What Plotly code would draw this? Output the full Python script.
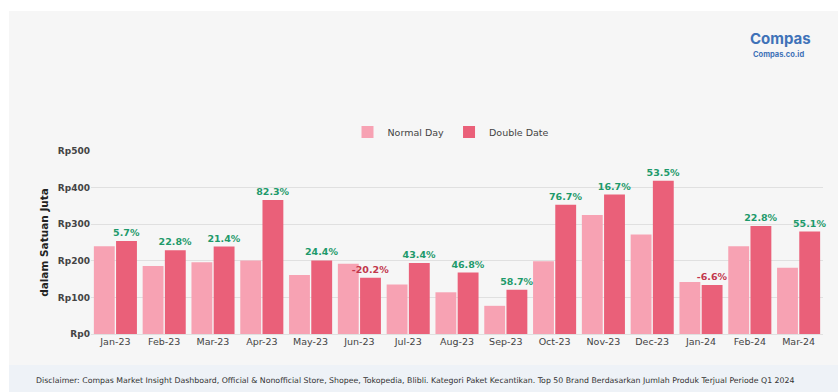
import plotly.graph_objects as go

months = ["Jan-23", "Feb-23", "Mar-23", "Apr-23", "May-23", "Jun-23", "Jul-23", "Aug-23",
          "Sep-23", "Oct-23", "Nov-23", "Dec-23", "Jan-24", "Feb-24", "Mar-24"]
normal_day = [240, 186, 196, 201, 161, 192, 135, 114, 77, 199, 325, 272, 142, 240, 181]
double_date = [254, 229, 239, 366, 201, 154, 194, 168, 121, 353, 381, 419, 134, 295, 280]
growth = ["5.7%", "22.8%", "21.4%", "82.3%", "24.4%", "-20.2%", "43.4%", "46.8%",
          "58.7%", "76.7%", "16.7%", "53.5%", "-6.6%", "22.8%", "55.1%"]
y_ticks = [0, 100, 200, 300, 400, 500]
y_tick_text = ["Rp0", "Rp100", "Rp200", "Rp300", "Rp400", "Rp500"]

growth_colors = ["#C2374C" if g.startswith("-") else "#1E9A6B" for g in growth]

W, H = 838, 392
L, R, T, B = 91, 15, 151, 58
pw, ph = W - L - R, H - T - B


def px(x):
    return (x - L) / pw


def py(y):
    return (H - B - y) / ph


FONT = "DejaVu Sans"

fig = go.Figure()
fig.add_trace(go.Bar(
    x=months, y=normal_day, name="Normal Day",
    marker=dict(color="#F7A2B3", line=dict(width=0)),
))
fig.add_trace(go.Bar(
    x=months, y=double_date, name="Double Date",
    marker=dict(color="#EA6079", line=dict(width=0)),
    text=growth, textposition="outside", constraintext="none", cliponaxis=False,
    textfont=dict(family=FONT, size=9.5, color=growth_colors, weight="bold"),
))

shapes = [
    dict(type="rect", xref="paper", yref="paper", x0=px(9), x1=px(W), y0=py(365), y1=py(11),
         fillcolor="#F6F6F6", line=dict(width=0), layer="below"),
    dict(type="rect", xref="paper", yref="paper", x0=px(9), x1=px(W), y0=py(H), y1=py(365),
         fillcolor="#EEF2F7", line=dict(width=0), layer="below"),
]

annotations = [
    dict(text="<b>Compas</b>", xref="paper", yref="paper", x=px(780), y=py(38),
         showarrow=False, font=dict(family="Inter", size=15, color="#3F72B8"),
         xanchor="center", yanchor="middle"),
    dict(text="<b>Compas.co.id</b>", xref="paper", yref="paper", x=px(778), y=py(54),
         showarrow=False, font=dict(family="Inter", size=7.5, color="#3F72B8"),
         xanchor="center", yanchor="middle"),
    dict(text="Disclaimer: Compas Market Insight Dashboard, Official & Nonofficial Store, Shopee, Tokopedia, Blibli. "
              "Kategori Paket Kecantikan. Top 50 Brand Berdasarkan Jumlah Produk Terjual Periode Q1 2024",
         xref="paper", yref="paper", x=px(415), y=py(380), showarrow=False,
         font=dict(family=FONT, size=7.8, color="#333333"), xanchor="center", yanchor="middle"),
]

fig.update_layout(
    width=W, height=H,
    margin=dict(l=L, r=R, t=T, b=B),
    paper_bgcolor="white", plot_bgcolor="rgba(0,0,0,0)",
    barmode="group", bargap=0.09, bargroupgap=0.06,
    font=dict(family=FONT, size=9.5, color="#444444"),
    showlegend=True,
    legend=dict(orientation="h", x=0.5 - 6 / pw, xanchor="center", y=py(132), yanchor="middle",
                font=dict(family=FONT, size=9.5, color="#444444"), bgcolor="rgba(0,0,0,0)",
                itemwidth=30, traceorder="normal"),
    xaxis=dict(showgrid=False, showline=False, zeroline=False, ticks="",
               tickfont=dict(family=FONT, size=9.5, color="#444444")),
    yaxis=dict(range=[0, 500], tickvals=y_ticks, ticktext=y_tick_text,
               showgrid=True, gridcolor="#E0E0E0", gridwidth=1, zeroline=True,
               zerolinecolor="#E0E0E0", zerolinewidth=1, showline=False, ticks="",
               tickfont=dict(family=FONT, size=9, color="#444444", weight="bold"),
               title=dict(text="dalam Satuan Juta", standoff=7,
                          font=dict(family=FONT, size=10.5, color="#222222", weight="bold"))),
    shapes=shapes, annotations=annotations,
)

fig.write_html("out.html")
